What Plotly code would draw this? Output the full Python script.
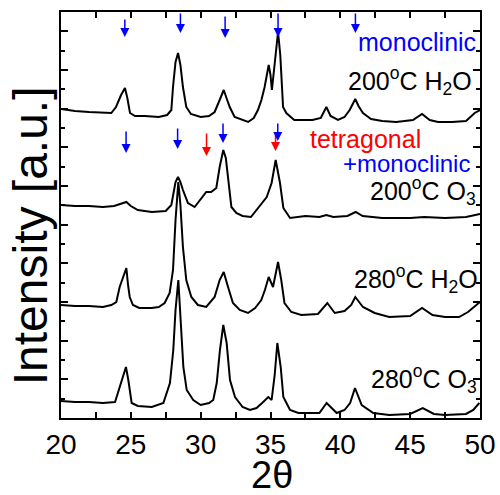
import plotly.graph_objects as go

# ---- data (2theta in degrees, intensity in a.u., offsets included) ----
x_200_h2o = [20.0, 21.0, 22.0, 23.0, 23.6, 23.94, 24.3, 24.58, 24.75, 24.94, 25.3, 26.0, 27.0, 27.6, 27.9,
             28.02, 28.2, 28.38, 28.55, 28.73, 28.97, 29.3, 30.0, 30.6, 31.0, 31.36, 31.65, 31.85, 32.08,
             32.43, 33.0, 33.4, 33.8, 34.1, 34.35, 34.58, 34.87, 35.0, 35.1, 35.3, 35.54, 35.7, 35.77, 35.9,
             36.13, 36.7, 38.0, 38.6, 39.0, 39.3, 39.83, 40.3, 40.67, 41.07, 41.3, 41.62, 42.2, 43.0, 44.0,
             45.2, 45.85, 46.4, 47.0, 48.0, 49.0, 49.62, 50.0]
y_200_h2o = [309, 307, 306, 305, 305, 311, 323, 330, 320, 305, 302, 302, 301, 303, 308,
             331, 356, 365, 353, 331, 311, 304, 301, 302, 306, 318, 328, 320, 311,
             301, 298, 296, 300, 308, 318, 331, 353, 343, 328, 358, 386, 363, 341, 311,
             305, 298, 298, 300, 311, 302, 298, 301, 308, 319, 312, 305, 299, 297, 296,
             298, 304, 298, 296, 296, 297, 305, 308]

x_200_o3 = [20.0, 21.0, 22.0, 23.0, 23.8, 24.3, 24.68, 25.0, 25.5, 26.5, 27.5, 27.9, 28.02, 28.2, 28.38,
            28.55, 28.73, 29.09, 29.57, 30.05, 30.4, 30.75, 31.12, 31.36, 31.62, 31.8, 31.96, 32.2, 32.55,
            33.0, 33.6, 34.25, 34.73, 35.08, 35.37, 35.68, 35.92, 36.4, 37.5, 38.5, 39.0, 39.5, 40.5,
            41.1, 41.6, 43.0, 45.0, 46.0, 47.5, 49.0, 50.0]
y_200_o3 = [213, 212, 212, 211, 212, 214, 216, 212, 208, 206, 207, 213, 221, 236, 241,
            236, 228, 215, 211, 220, 226, 226, 230, 251, 268, 260, 238, 211, 205,
            202, 201, 213, 221, 235, 258, 235, 210, 200, 202, 201, 203, 201, 202,
            206, 202, 200, 200, 201, 200, 201, 204]

x_280_h2o = [20.0, 21.0, 22.0, 23.0, 23.6, 23.96, 24.2, 24.5, 24.68, 24.8, 24.92, 25.15, 25.6, 26.5, 27.0,
             27.42, 27.78, 28.02, 28.2, 28.4, 28.55, 28.73, 28.97, 29.33, 29.8, 30.4, 31.0, 31.36, 31.65,
             31.96, 32.31, 32.8, 33.39, 33.9, 34.34, 34.6, 34.87, 35.18, 35.54, 35.77, 36.0, 36.49, 37.2,
             38.4, 39.07, 39.6, 40.3, 40.78, 41.07, 41.62, 42.46, 43.5, 45.0, 45.85, 46.6, 47.5, 48.5,
             49.14, 49.86, 50.0]
y_280_h2o = [113, 112, 112, 111, 113, 116, 131, 143, 150, 133, 121, 113, 110, 110, 111,
             115, 125, 148, 198, 236, 213, 171, 138, 121, 113, 111, 121, 138, 146,
             131, 115, 108, 105, 110, 118, 128, 141, 131, 156, 138, 115, 106, 103,
             104, 115, 105, 107, 113, 121, 111, 105, 101, 102, 110, 103, 101, 101,
             106, 115, 116]

x_280_o3 = [20.0, 21.0, 22.0, 23.0, 23.87, 24.22, 24.45, 24.65, 24.82, 25.06, 25.5, 26.5, 27.33, 27.8,
            28.04, 28.2, 28.4, 28.64, 28.76, 29.0, 29.47, 30.0, 30.6, 30.9, 31.15, 31.38, 31.62, 31.86,
            32.1, 32.46, 33.0, 33.53, 34.0, 34.4, 34.84, 35.08, 35.3, 35.49, 35.73, 35.92, 36.4, 37.0,
            38.5, 39.02, 39.74, 40.3, 40.7, 41.05, 41.53, 42.36, 43.5, 45.0, 45.9, 46.7, 47.5, 49.0,
            49.52, 49.95]
y_280_o3 = [17, 16, 16, 15, 16, 31, 43, 51, 38, 15, 12, 11, 15, 35,
            68, 108, 138, 85, 51, 28, 18, 13, 15, 18, 35, 68, 93, 75,
            38, 21, 11, 8, 10, 15, 21, 18, 43, 75, 51, 21, 8, 5,
            5, 15, 5, 8, 15, 30, 13, 5, 3, 4, 10, 4, 3, 4,
            8, 15]

# arrows marking reflections: x position, tip and tail intensity, colour
arrow_x = [24.57, 28.55, 31.75, 35.54, 41.08, 24.66, 28.35, 30.42, 31.6, 35.36, 35.52]
arrow_tip = [381, 385, 380, 381, 385, 265, 269, 262, 275, 267, 277]
arrow_tail = [400, 406, 403, 406, 406, 288, 291, 286, 296, 286, 296]
arrow_col = ["blue", "blue", "blue", "blue", "blue", "blue", "blue", "red", "blue", "red", "blue"]

# labels: text, x, y, colour
label_text = ["monoclinic", "200<sup>o</sup>C H<sub>2</sub>O", "tetragonal", "+monoclinic",
              "200<sup>o</sup>C O<sub>3</sub>", "280<sup>o</sup>C H<sub>2</sub>O", "280<sup>o</sup>C O<sub>3</sub>"]
label_x = [49.75, 49.6, 45.8, 49.4, 49.75, 49.8, 49.8]
label_y = [376, 337, 279, 255, 227, 139, 39]
label_size = [25, 25, 25, 24, 25, 25, 25]
label_col = ["blue", "black", "red", "blue", "black", "black", "black"]
label_shift = [1, 0, 2, 0, 1, 3, 2]

x_ticks = [20, 25, 30, 35, 40, 45, 50]
FONT = "Liberation Sans, Arial, sans-serif"

fig = go.Figure()
for xs, ys in [(x_200_h2o, y_200_h2o), (x_200_o3, y_200_o3), (x_280_h2o, y_280_h2o), (x_280_o3, y_280_o3)]:
    fig.add_trace(go.Scatter(x=xs, y=ys, mode="lines", line=dict(color="black", width=2), showlegend=False))

ann = []
for xa, tip, tail, c in zip(arrow_x, arrow_tip, arrow_tail, arrow_col):
    ann.append(dict(x=xa, y=tip, ax=xa, ay=tail, xref="x", yref="y", axref="x", ayref="y",
                    text="", showarrow=True, arrowhead=2, arrowsize=1.2, arrowwidth=1.5,
                    arrowcolor=c, standoff=0, startstandoff=0))
for t, xl, yl, s, c, sh in zip(label_text, label_x, label_y, label_size, label_col, label_shift):
    ann.append(dict(x=xl, y=yl, xref="x", yref="y", text=t, showarrow=False, xanchor="right",
                    yanchor="middle", xshift=sh, font=dict(family=FONT, size=s, color=c)))
ann.append(dict(x=-0.074, y=0.45, xref="paper", yref="paper", text="Intensity [a.u.]", textangle=-90,
                showarrow=False, xanchor="center", yanchor="middle", font=dict(family=FONT, size=48, color="black")))
ann.append(dict(x=0.5036, y=-0.14, xref="paper", yref="paper", text="2θ",
                showarrow=False, xanchor="center", yanchor="middle", font=dict(family=FONT, size=38, color="black")))

fig.update_layout(
    width=500, height=495,
    margin=dict(l=61, r=20, t=12, b=77, autoexpand=False),
    paper_bgcolor="white", plot_bgcolor="white",
    annotations=ann,
    xaxis=dict(range=[20, 50], tickvals=x_ticks, ticktext=[str(v) for v in x_ticks], automargin=False,
               ticks="inside", ticklen=6, tickwidth=1.5, tickcolor="black",
               showline=True, linecolor="black", linewidth=2, mirror="allticks",
               showgrid=False, zeroline=False,
               minor=dict(dtick=2.5, tick0=20, ticks="inside", ticklen=6, tickwidth=1.5, tickcolor="black", showgrid=False),
               tickfont=dict(family=FONT, size=28, color="black")),
    yaxis=dict(range=[0, 406], tick0=0, dtick=38.667, showticklabels=False, automargin=False,
               ticks="inside", ticklen=7, tickwidth=1.5, tickcolor="black",
               showline=True, linecolor="black", linewidth=2, mirror="allticks",
               showgrid=False, zeroline=False,
               minor=dict(dtick=19.333, tick0=0, ticks="inside", ticklen=4, tickwidth=1.5, tickcolor="black", showgrid=False)),
)
fig.write_html("out.html")
